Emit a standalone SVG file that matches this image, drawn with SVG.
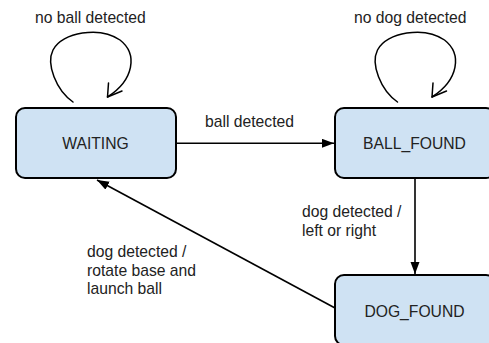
<svg xmlns="http://www.w3.org/2000/svg" width="489" height="343" viewBox="0 0 489 343">
  <style>
    .state rect { fill: #cfe2f3; stroke: #000; stroke-width: 2; }
    .state text { font-family: "Liberation Sans", Arial, sans-serif; font-size: 15.7px; fill: #222; text-anchor: middle; }
    .label { font-family: "Liberation Sans", Arial, sans-serif; font-size: 15.7px; fill: #222; }
    .edge { fill: none; stroke: #000; stroke-width: 1.6; }
    .loop { fill: none; stroke: #000; stroke-width: 1.5; stroke-linecap: round; stroke-linejoin: round; }
  </style>
  <defs>
    <marker id="arrow" markerUnits="userSpaceOnUse" markerWidth="12" markerHeight="10" refX="12" refY="4.5" orient="auto">
      <path d="M0,0 L12,4.5 L0,9 z" fill="#000"/>
    </marker>
    <!-- self-transition loop with open arrowhead -->
    <g id="selfLoop">
      <path class="loop" d="M 73 102 C 56 90, 46 64, 53 50 C 62 32, 100 26, 120 40 C 138 54, 134 80, 107.5 97"/>
      <path class="loop" d="M 108.5 83 L 107.5 97 L 122 91"/>
    </g>
  </defs>

  <g id="connectors">
    <use href="#selfLoop"/>
    <use href="#selfLoop" transform="translate(324.5,0)"/>
    <line class="edge" x1="177" y1="143.3" x2="334" y2="143.3" marker-end="url(#arrow)"/>
    <line class="edge" x1="415" y1="179" x2="415" y2="274" marker-end="url(#arrow)"/>
    <line class="edge" x1="335" y1="308" x2="97" y2="180" marker-end="url(#arrow)"/>
    <text class="label" x="35" y="23">no ball detected</text>
    <text class="label" x="354" y="23">no dog detected</text>
    <text class="label" x="205" y="127">ball detected</text>
    <text class="label" x="302" y="217">dog detected /</text>
    <text class="label" x="302" y="235.5">left or right</text>
    <text class="label" x="87" y="257">dog detected /</text>
    <text class="label" x="87" y="275.7">rotate base and</text>
    <text class="label" x="87" y="294.3">launch ball</text>
  </g>

  <g id="waiting" class="state">
    <rect x="16" y="108" width="160" height="70" rx="9"/>
    <text x="95.5" y="149">WAITING</text>
  </g>
  <g id="ball_found" class="state">
    <rect x="335" y="108" width="160" height="70" rx="9"/>
    <text x="414.5" y="149">BALL_FOUND</text>
  </g>
  <g id="dog_found" class="state">
    <rect x="335" y="275" width="160" height="70" rx="9"/>
    <text x="414.5" y="317">DOG_FOUND</text>
  </g>
</svg>
